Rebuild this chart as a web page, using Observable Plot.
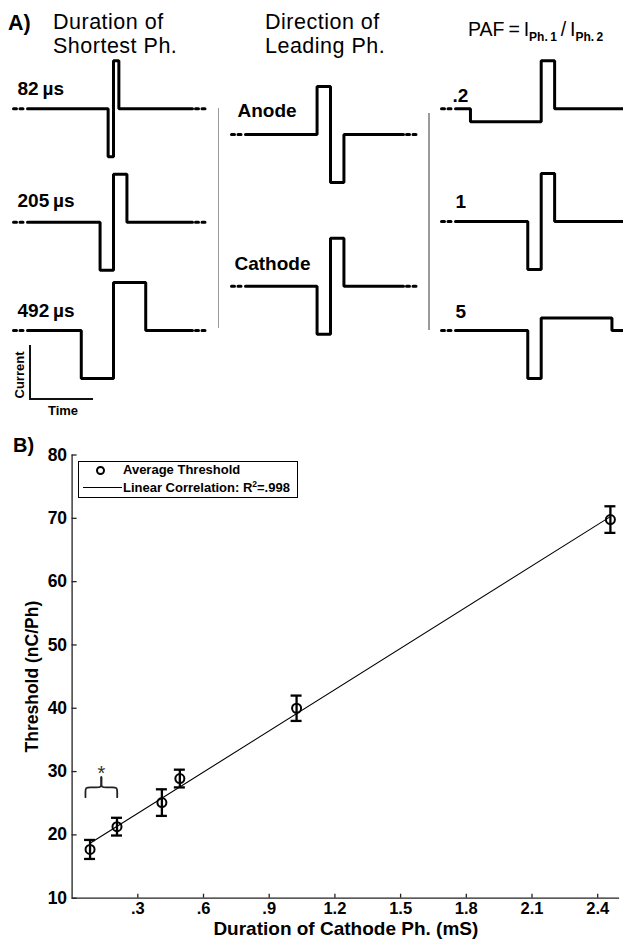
<!DOCTYPE html>
<html><head><meta charset="utf-8">
<script src="https://cdn.jsdelivr.net/npm/d3@7"></script>
<script src="https://cdn.jsdelivr.net/npm/@observablehq/plot@0.6"></script>
<style>
body{margin:0;background:#fff;font-family:"Liberation Sans",Arial,sans-serif;color:#000;}
#fig{position:relative;width:623px;height:939px;overflow:hidden;background:#fff;}
.abs{position:absolute;white-space:nowrap;line-height:1;}
.panel{position:absolute;left:0;}
</style></head>
<body><div id="fig"></div>
<script>
// ---------------- Panel A data ----------------
const shortestPhaseLabels = ["82\u2009µs", "205\u2009µs", "492\u2009µs"];
const shortestPhaseUs = [82, 205, 492];
const leadingDirLabels = ["Anode", "Cathode"];
const leadingDirPhase1Amp = [1, -1];
const leadingDirPhase2Amp = [-1, 1];
const leadingDirPhaseUs = [205, 205];
const pafLabels = [".2", "1", "5"];
const pafPhase1Amp = [-0.27, -1, -1];
const pafPhase2Amp = [1, 1, 0.26];
const pafPhase1Us = [1080, 205, 205];
const pafPhase2Us = [205, 205, 1080];

// ---------------- Panel B data ----------------
const cathodeDurMs  = [0.082, 0.205, 0.41, 0.492, 1.025, 2.458];
const thresholdMean = [17.7, 21.3, 25.1, 28.9, 40.0, 69.8];
const thresholdErr  = [1.5, 1.4, 2.1, 1.4, 2.0, 2.1];
const xTickValues = [0.3, 0.6, 0.9, 1.2, 1.5, 1.8, 2.1, 2.4];
const xTickLabels = [".3", ".6", ".9", "1.2", "1.5", "1.8", "2.1", "2.4"];
const yTickValues = [10, 20, 30, 40, 50, 60, 70, 80];
const yTickLabels = ["10", "20", "30", "40", "50", "60", "70", "80"];
const sigBracketMs = [0.061, 0.206];
const sigBracketLevel = 27.5;
const sigMark = "*";

// ---------------- layout (panel A, pixel space) ----------------
const pxPerUs = 0.0655, pxPerAmp = 48;
const columns = [
  {center: 113,   left: 27,  right: 192, labelX: [17, 17, 17],   bases: [108.3, 221.7, 330], labelY: [88.5, 200.5, 310]},
  {center: 330,   left: 245, right: 403, labelX: [237, 234],     bases: [134, 285.7],        labelY: [110.7, 263]},
  {center: 540.7, left: 455, right: 640, labelX: [452, 455, 455], bases: [108.3, 221, 330],  labelY: [95, 201.7, 311.3]}
];
const waveSpecs = [
  shortestPhaseUs.map((d, i) => ({col: 0, row: i, label: shortestPhaseLabels[i], a1: -1, d1: d, a2: 1, d2: d})),
  leadingDirLabels.map((l, i) => ({col: 1, row: i, label: l, a1: leadingDirPhase1Amp[i], d1: leadingDirPhaseUs[i], a2: leadingDirPhase2Amp[i], d2: leadingDirPhaseUs[i]})),
  pafLabels.map((l, i) => ({col: 2, row: i, label: l, a1: pafPhase1Amp[i], d1: pafPhase1Us[i], a2: pafPhase2Amp[i], d2: pafPhase2Us[i]}))
].flat();

const waveRows = [], dotRows = [], labelRows = [];
waveSpecs.forEach((w, k) => {
  const c = columns[w.col], base = c.bases[w.row];
  const x0 = c.center - w.d1 * pxPerUs, x2 = c.center + w.d2 * pxPerUs;
  const y1 = base - w.a1 * pxPerAmp, y2 = base - w.a2 * pxPerAmp;
  [[c.left, base], [x0, base], [x0, y1], [c.center, y1], [c.center, y2], [x2, y2], [x2, base], [c.right, base]]
    .forEach(([x, y]) => waveRows.push({id: k, x, y}));
  dotRows.push({id: k + "a", x: c.left - 14, y: base}, {id: k + "a", x: c.left - 4.5, y: base});
  if (w.col < 2) dotRows.push({id: k + "b", x: c.right + 3, y: base}, {id: k + "b", x: c.right + 12.5, y: base});
  labelRows.push({x: c.labelX[w.row], y: c.labelY[w.row], text: w.label});
});

const font = "'Liberation Sans', Arial, sans-serif";
const fig = document.getElementById("fig");

const panelA = Plot.plot({
  width: 623, height: 420, margin: 0,
  x: {domain: [0, 623], range: [0, 623], axis: null},
  y: {domain: [0, 420], range: [0, 420], axis: null},
  style: {fontFamily: font, background: "transparent", overflow: "visible"},
  marks: [
    Plot.line(waveRows, {x: "x", y: "y", z: "id", stroke: "#000", strokeWidth: 3, strokeLinejoin: "miter"}),
    Plot.line(dotRows, {x: "x", y: "y", z: "id", stroke: "#000", strokeWidth: 3, strokeDasharray: "3,3.5"}),
    Plot.text(labelRows, {x: "x", y: "y", text: "text", textAnchor: "start", lineAnchor: "middle", fontWeight: "bold", fontSize: 19, fill: "#000"})
  ]
});
const wa = document.createElement("div"); wa.className = "panel"; wa.style.top = "0px";
wa.appendChild(panelA); fig.appendChild(wa);

// ---------------- Panel B ----------------
const points = cathodeDurMs.map((x, i) => ({x, y: thresholdMean[i], lo: thresholdMean[i] - thresholdErr[i], hi: thresholdMean[i] + thresholdErr[i]}));
const [b0, b1] = sigBracketMs, bm = (b0 + b1) / 2, h = sigBracketLevel;
const rx = 0.022, ry = 0.7;
const braceRows = [
  [b0, h - 1.55], [b0, h - ry], [b0, h], [b0 + rx, h], [bm - rx, h], [bm, h], [bm, h + ry], [bm, h + 1.6]
].map(([x, y]) => ({id: "L", x, y})).concat([
  [b1, h - 1.55], [b1, h - ry], [b1, h], [b1 - rx, h], [bm + rx, h], [bm, h], [bm, h + ry], [bm, h + 1.6]
].map(([x, y]) => ({id: "R", x, y})));

const panelB = Plot.plot({
  width: 623, height: 519,
  marginTop: 34.5, marginBottom: 41.3, marginLeft: 71.6, marginRight: 3.9,
  x: {domain: [0, 2.5], axis: null},
  y: {domain: [10, 80], axis: null},
  style: {fontFamily: font, background: "transparent", overflow: "visible"},
  marks: [
    Plot.ruleX([0], {stroke: "#222", strokeWidth: 1.3}),
    Plot.ruleY([10], {stroke: "#222", strokeWidth: 1.3}),
    Plot.ruleY(yTickValues, {y: d => d, x1: 0, x2: 0, insetRight: -5, stroke: "#222", strokeWidth: 1.3}),
    Plot.ruleX(xTickValues, {x: d => d, y1: 10, y2: 10, insetTop: -4, stroke: "#222", strokeWidth: 1.3}),
    Plot.text(yTickValues, {x: 0, y: d => d, text: (d, i) => yTickLabels[i], dx: -5, textAnchor: "end", lineAnchor: "middle", fontWeight: "bold", fontSize: 17.5, fill: "#000"}),
    Plot.text(xTickValues, {x: d => d, y: 10, text: (d, i) => xTickLabels[i], dy: 10.5, textAnchor: "middle", lineAnchor: "middle", fontWeight: "bold", fontSize: 16.5, fill: "#000"}),
    Plot.text(["Duration of Cathode Ph. (mS)"], {frameAnchor: "bottom", dy: 30.7, textAnchor: "middle", lineAnchor: "middle", fontWeight: "bold", fontSize: 19, fill: "#000"}),
    Plot.text(["Threshold (nC/Ph)"], {frameAnchor: "left", dx: -40, rotate: -90, textAnchor: "middle", lineAnchor: "middle", fontWeight: "bold", fontSize: 17.5, fill: "#000"}),
    Plot.linearRegressionY(points, {x: "x", y: "y", ci: 0, stroke: "#000", strokeWidth: 1.1}),
    Plot.ruleX(points, {x: "x", y1: "lo", y2: "hi", stroke: "#000", strokeWidth: 2.3}),
    Plot.ruleY(points, {y: "lo", x1: "x", x2: "x", insetLeft: -5.5, insetRight: -5.5, stroke: "#000", strokeWidth: 2.3}),
    Plot.ruleY(points, {y: "hi", x1: "x", x2: "x", insetLeft: -5.5, insetRight: -5.5, stroke: "#000", strokeWidth: 2.3}),
    Plot.dot(points, {x: "x", y: "y", r: 4.5, stroke: "#000", strokeWidth: 2, fill: "none"}),
    Plot.line(braceRows, {x: "x", y: "y", z: "id", curve: "basis", stroke: "#222", strokeWidth: 1.8}),
    Plot.text([sigMark], {x: bm, y: 30.5, dy: 5, textAnchor: "middle", lineAnchor: "middle", fontSize: 20, fill: "#333"})
  ]
});
const wb = document.createElement("div"); wb.className = "panel"; wb.style.top = "420px";
wb.appendChild(panelB); fig.appendChild(wb);

// ---------------- HTML text & decorations ----------------
function addText(html, x, base, size, weight = "normal", extra = "") {
  const d = document.createElement("div");
  d.className = "abs";
  d.style.cssText = `left:${x}px;top:${base - 0.8465 * size}px;font-size:${size}px;font-weight:${weight};${extra}`;
  d.innerHTML = html;
  fig.appendChild(d);
  return d;
}
function addCentered(text, cx, cy, size, weight, rot = 0) {
  const d = document.createElement("div");
  d.className = "abs";
  d.style.cssText = `left:${cx}px;top:${cy}px;font-size:${size}px;font-weight:${weight};transform:translate(-50%,-50%) rotate(${rot}deg);`;
  d.textContent = text;
  fig.appendChild(d);
}
function addBox(x, y, w, hgt, css) {
  const d = document.createElement("div");
  d.style.cssText = `position:absolute;left:${x}px;top:${y}px;width:${w}px;height:${hgt}px;box-sizing:border-box;${css}`;
  fig.appendChild(d);
  return d;
}

const titleCss = "letter-spacing:0.5px;";
addText("A)", 8, 31, 21.5, "bold");
addText("Duration of", 53, 30, 21.5, "normal", titleCss);
addText("Shortest Ph.", 53, 54, 21.5, "normal", titleCss);
addText("Direction of", 265, 30, 21.5, "normal", titleCss);
addText("Leading Ph.", 265, 54, 21.5, "normal", titleCss);
addText('PAF\u2009=\u2009I<span style="font-size:12px;font-weight:bold;position:relative;top:5px">Ph.\u20091</span>\u2009/\u2009I<span style="font-size:12px;font-weight:bold;position:relative;top:5px">Ph.\u20092</span>', 468, 37, 19.5);

// separators
addBox(217.5, 108, 1.8, 220, "background:#9a9a9a");
addBox(428, 113, 1.8, 217, "background:#9a9a9a");
// scale bar
addBox(29, 345, 2, 55, "background:#111");
addBox(29, 398, 64, 2, "background:#111");
addCentered("Current", 19, 375, 13, "bold", -90);
addCentered("Time", 63, 410, 13, "bold");

// panel B label & legend
addText("B)", 13, 451.5, 20, "bold");
addBox(77.7, 460.7, 220, 37, "border:1.5px solid #000;background:#fff");
addBox(95.5, 466.2, 9, 9, "border:2px solid #000;border-radius:50%");
addText("Average Threshold", 123, 474.5, 13, "bold");
addBox(83, 487.2, 39, 1.2, "background:#000");
addText('Linear Correlation: R<span style="font-size:8.5px;position:relative;top:-5px">2</span>=.998', 123, 492, 13, "bold");
</script>
</body></html>
